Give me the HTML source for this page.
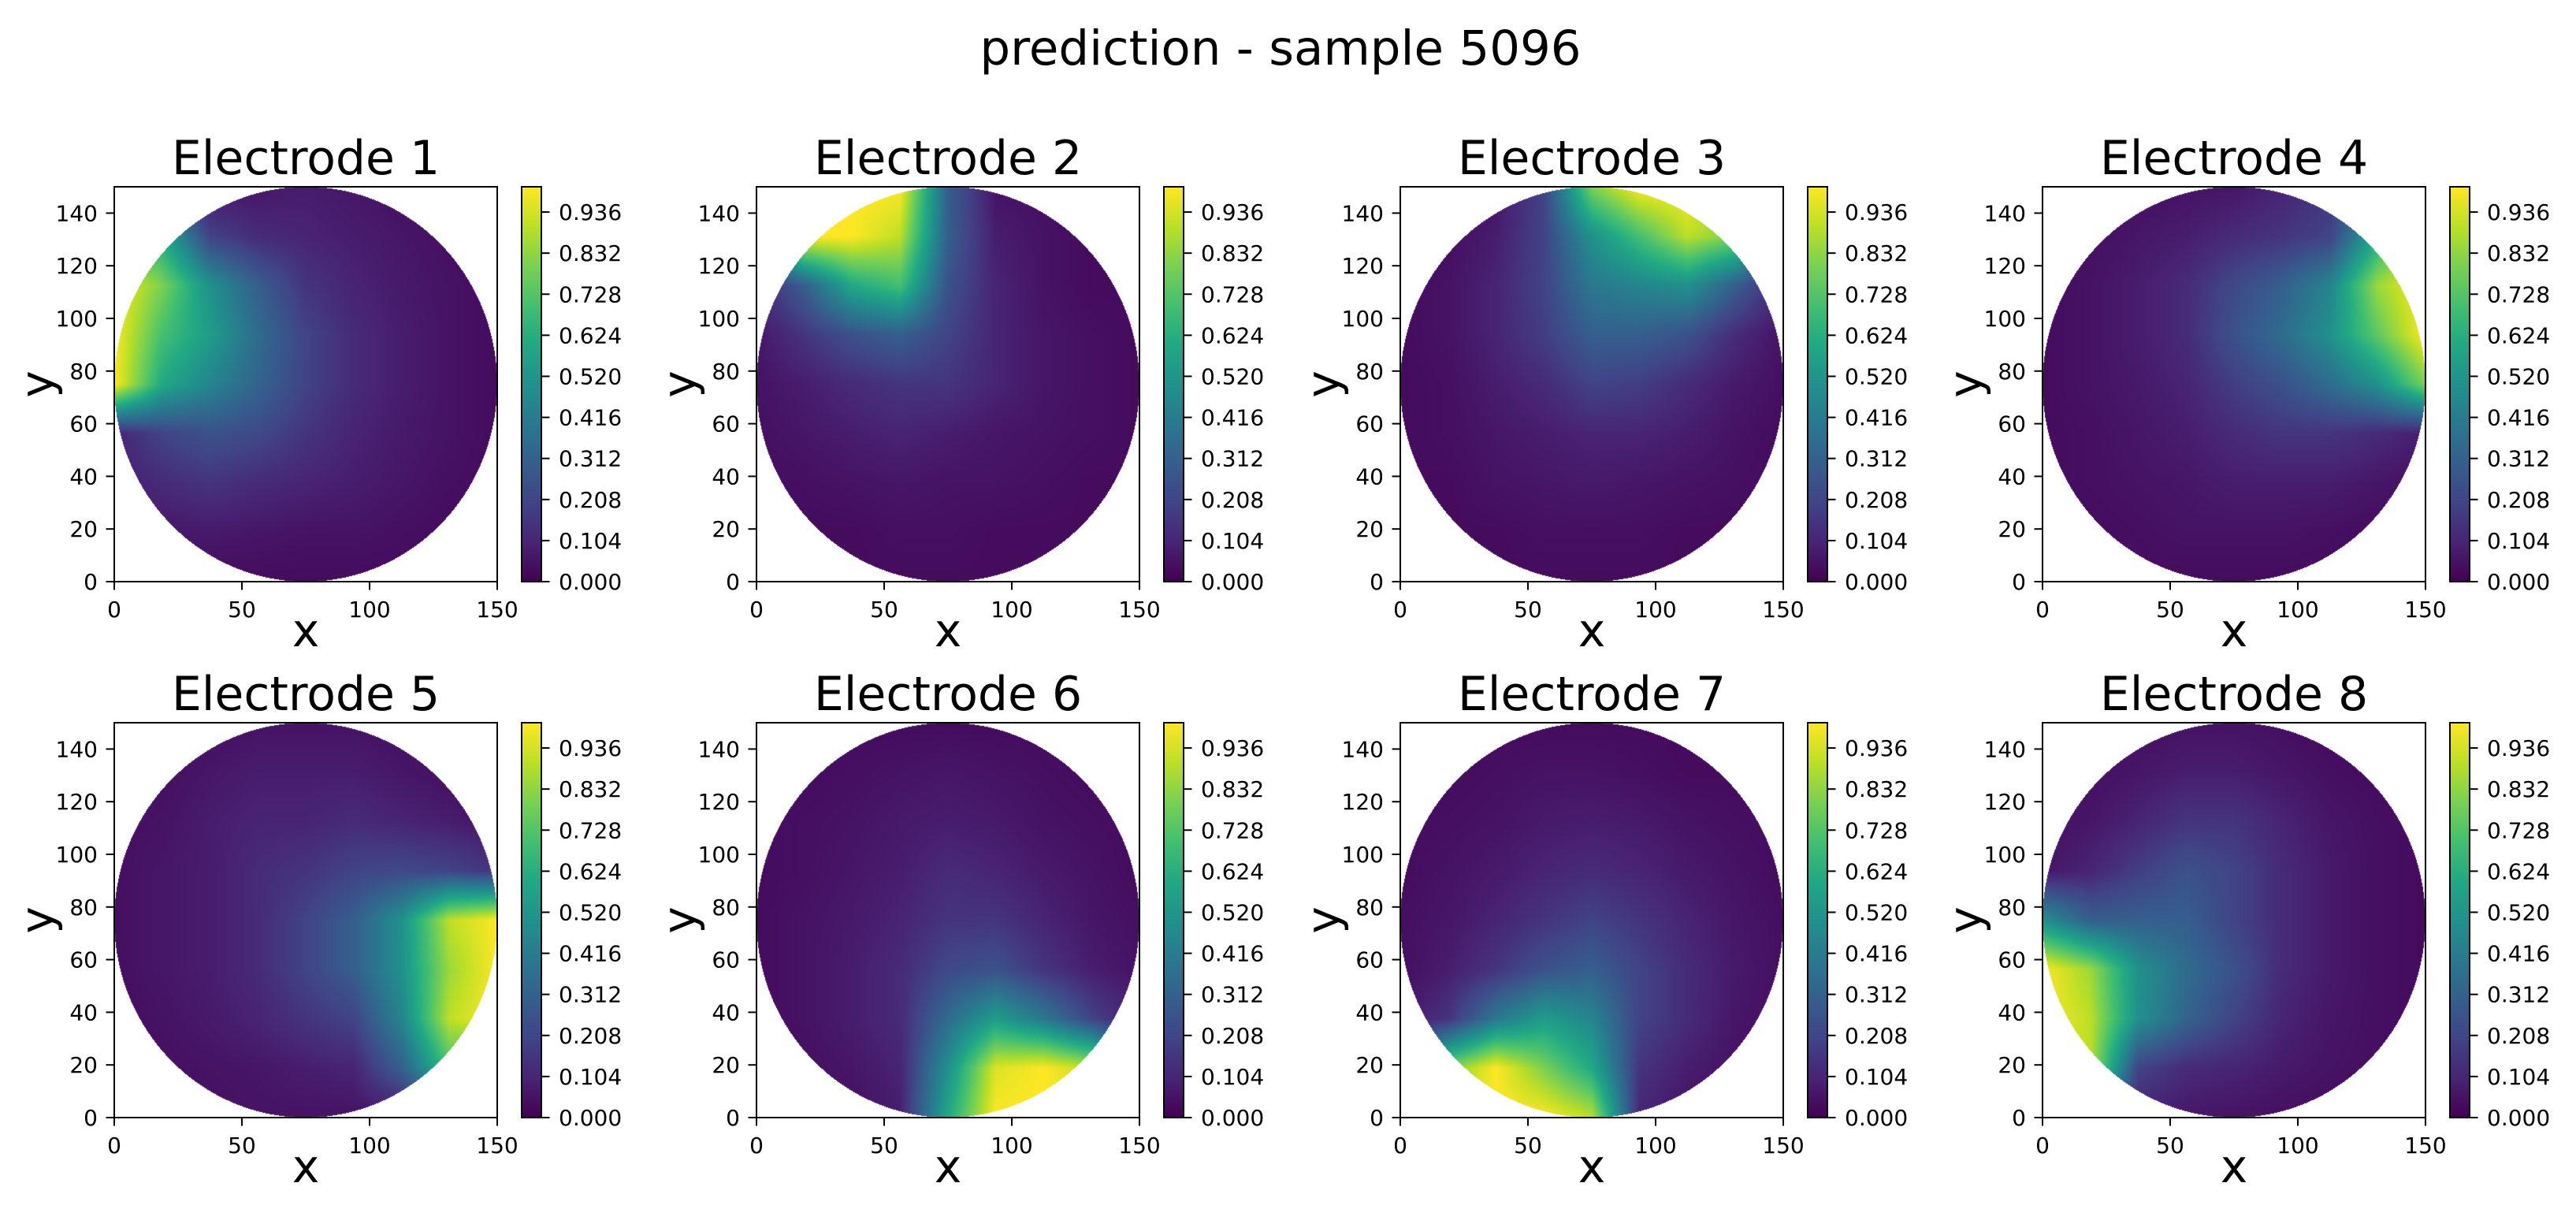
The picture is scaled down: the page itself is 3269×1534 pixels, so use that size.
<!DOCTYPE html>
<html><head><meta charset="utf-8"><style>
html,body{margin:0;padding:0;background:#fff;}
#root{position:relative;width:3269px;height:1534px;overflow:hidden;background:#fff;font-family:"DejaVu Sans","Liberation Sans",sans-serif;}
canvas{position:absolute;}
svg{position:absolute;left:0;top:0;}
</style></head>
<body>
<div id="root">
<svg id="ov" width="3269" height="1534">
<text x="1625" y="82" font-size="61" text-anchor="middle" font-family="DejaVu Sans, Liberation Sans, sans-serif">prediction - sample 5096</text>
</svg>
</div>
<script>
// grid nodes (data coords); rows listed from y=150 down to y=0
const gridX = [0, 18.75, 37.5, 56.25, 75, 93.75, 112.5, 131.25, 150];
const gridY = [150, 131.25, 112.5, 93.75, 75, 56.25, 37.5, 18.75, 0];
const xTicks = [0, 50, 100, 150];
const yTicks = [0, 20, 40, 60, 80, 100, 120, 140];
const cbTicks = [0.000, 0.104, 0.208, 0.312, 0.416, 0.520, 0.624, 0.728, 0.832, 0.936];
const titles = ["Electrode 1","Electrode 2","Electrode 3","Electrode 4","Electrode 5","Electrode 6","Electrode 7","Electrode 8"];
const e1 = [
[.05,.05,.05,.06,.08,.06,.04,.03,.03],
[.8,.6,.2,.12,.1,.08,.06,.04,.03],
[1,.8,.5,.3,.15,.1,.07,.05,.03],
[1,.7,.55,.35,.2,.12,.08,.05,.03],
[1,.6,.45,.32,.2,.12,.08,.05,.03],
[.1,.2,.25,.22,.15,.1,.07,.05,.03],
[.08,.12,.15,.12,.1,.08,.06,.04,.03],
[.05,.06,.07,.06,.05,.05,.04,.03,.03],
[.03,.03,.03,.03,.03,.03,.03,.03,.03]];
const e2 = [
[.7,1,1,1,.3,.05,.04,.03,.03],
[.4,1,1,.9,.3,.08,.05,.03,.03],
[.1,.3,.6,.7,.25,.1,.05,.03,.03],
[.06,.15,.25,.3,.2,.1,.06,.04,.03],
[.05,.08,.12,.15,.15,.1,.06,.04,.03],
[.04,.06,.08,.1,.08,.06,.05,.04,.03],
[.03,.04,.05,.06,.05,.05,.04,.03,.03],
[.03,.03,.03,.04,.04,.03,.03,.03,.03],
[.03,.03,.03,.03,.03,.03,.03,.03,.03]];
const e3 = [
[.03,.03,.05,.2,.8,1,1,.9,.3],
[.03,.04,.08,.2,.5,.7,.9,.8,.2],
[.03,.05,.1,.2,.4,.45,.5,.3,.1],
[.03,.05,.1,.18,.3,.3,.25,.12,.05],
[.03,.04,.08,.12,.2,.18,.12,.07,.04],
[.03,.04,.06,.08,.1,.1,.08,.05,.03],
[.03,.03,.05,.06,.07,.06,.05,.04,.03],
[.03,.03,.03,.04,.04,.04,.03,.03,.03],
[.03,.03,.03,.03,.03,.03,.03,.03,.03]];
const e4 = [
[.03,.03,.04,.05,.06,.1,.15,.3,.3],
[.03,.04,.06,.08,.12,.15,.2,.6,1],
[.03,.05,.08,.12,.22,.3,.45,.85,1],
[.03,.05,.08,.12,.25,.35,.5,.75,1],
[.03,.05,.07,.1,.18,.25,.35,.5,.8],
[.03,.04,.06,.08,.12,.15,.15,.12,.08],
[.03,.04,.05,.06,.08,.08,.08,.06,.04],
[.03,.03,.04,.05,.05,.05,.04,.03,.03],
[.03,.03,.03,.03,.03,.03,.03,.03,.03]];
const e5 = [
[.03,.03,.04,.05,.05,.05,.04,.03,.03],
[.03,.04,.06,.08,.08,.08,.06,.04,.03],
[.04,.05,.08,.1,.1,.12,.1,.08,.05],
[.04,.06,.08,.12,.15,.2,.22,.2,.15],
[.04,.06,.08,.12,.2,.3,.5,.9,1],
[.04,.06,.08,.12,.2,.3,.5,.85,1],
[.03,.05,.07,.1,.15,.2,.45,.9,1],
[.03,.04,.05,.06,.08,.1,.3,.7,.6],
[.03,.03,.04,.05,.05,.05,.05,.05,.05]];
const e6 = [
[.03,.03,.03,.03,.03,.03,.03,.03,.03],
[.03,.03,.04,.05,.06,.05,.04,.03,.03],
[.03,.04,.05,.07,.08,.07,.05,.04,.03],
[.03,.04,.06,.08,.12,.1,.07,.05,.03],
[.03,.05,.07,.1,.15,.15,.1,.06,.04],
[.03,.05,.08,.12,.22,.25,.15,.08,.05],
[.03,.05,.08,.12,.35,.55,.4,.2,.08],
[.03,.04,.06,.1,.5,.95,1,.9,.3],
[.03,.03,.04,.08,.6,1,1,1,.3]];
const e7 = [
[.03,.03,.03,.03,.03,.03,.03,.03,.03],
[.03,.03,.04,.05,.05,.04,.03,.03,.03],
[.03,.04,.05,.07,.08,.07,.05,.04,.03],
[.03,.05,.07,.1,.12,.1,.07,.05,.03],
[.04,.06,.1,.15,.2,.15,.1,.06,.04],
[.04,.08,.15,.25,.3,.2,.12,.07,.04],
[.05,.15,.4,.55,.45,.2,.12,.06,.04],
[.2,.8,1,.8,.6,.15,.08,.05,.03],
[.3,1,1,1,.9,.1,.05,.03,.03]];
const e8 = [
[.03,.03,.04,.05,.05,.04,.03,.03,.03],
[.03,.04,.06,.08,.08,.06,.04,.03,.03],
[.04,.06,.1,.15,.15,.1,.06,.04,.03],
[.06,.1,.18,.25,.2,.12,.07,.04,.03],
[.5,.3,.3,.3,.2,.12,.07,.04,.03],
[1,.85,.5,.35,.25,.12,.07,.04,.03],
[1,.9,.5,.32,.2,.1,.06,.04,.03],
[1,.9,.2,.12,.1,.07,.05,.04,.03],
[.1,.3,.08,.06,.05,.04,.03,.03,.03]];
const fields = [e1,e2,e3,e4,e5,e6,e7,e8];

const colLeft = [145, 960, 1777, 2592], rowTop = [237, 917], W = 486, H = 501;
const viridis = ["#440154","#482475","#414487","#355f8d","#2a788e","#21918c","#22a884","#44bf70","#7ad151","#bddf26","#fde725"].map(h=>[parseInt(h.slice(1,3),16),parseInt(h.slice(3,5),16),parseInt(h.slice(5,7),16)]);
function cmap(v){v=Math.max(0,Math.min(1,v));const t=v*10,i=Math.min(9,Math.floor(t)),f=t-i,a=viridis[i],b=viridis[i+1];return [a[0]+(b[0]-a[0])*f,a[1]+(b[1]-a[1])*f,a[2]+(b[2]-a[2])*f];}
function sample(g,x,y){
  const step=150/(gridX.length-1);
  let fx=x/step, fy=(150-y)/step;
  let i=Math.min(gridX.length-2,Math.max(0,Math.floor(fx))), j=Math.min(gridY.length-2,Math.max(0,Math.floor(fy)));
  const tx=fx-i, ty=fy-j;
  return g[j][i]*(1-tx)*(1-ty)+g[j][i+1]*tx*(1-ty)+g[j+1][i]*(1-tx)*ty+g[j+1][i+1]*tx*ty;
}
const root=document.getElementById('root'), ov=document.getElementById('ov');
const NS='http://www.w3.org/2000/svg';
function mk(tag,attrs,parent){const e=document.createElementNS(NS,tag);for(const k in attrs)e.setAttribute(k,attrs[k]);(parent||ov).appendChild(e);return e;}

fields.forEach((g,k)=>{
  const L=colLeft[k%4], T=rowTop[Math.floor(k/4)];
  const xs=v=>L+v/150*W, ys=v=>T+H-v/150*H;
  const c=document.createElement('canvas');
  
  
  c.width=W;c.height=H;c.style.left=L+'px';c.style.top=T+'px';
  root.insertBefore(c,ov);
  const ctx=c.getContext('2d'),im=ctx.createImageData(W,H);
  for(let py=0;py<H;py++)for(let px=0;px<W;px++){
    const x=(px+0.5)/W*150,y=150-(py+0.5)/H*150;
    if((x-75)*(x-75)+(y-75)*(y-75)>75*75)continue;
    const col=cmap(sample(g,x,y)),o=(py*W+px)*4;
    im.data[o]=col[0];im.data[o+1]=col[1];im.data[o+2]=col[2];im.data[o+3]=255;
  }
  ctx.putImageData(im,0,0);
  const grp=mk('g',{});
  
  
  const fr=mk('rect',{x:L,y:T,width:W,height:H,fill:'none',stroke:'#000','stroke-width':2},grp);
  
  
  xTicks.forEach(v=>{
    mk('line',{x1:xs(v),x2:xs(v),y1:T+H,y2:T+H+10.5,stroke:'#000','stroke-width':2},grp);
    const t=mk('text',{x:xs(v),y:T+H+45,'font-size':28,'text-anchor':'middle'},grp);t.textContent=v;
    
    
  });
  yTicks.forEach(v=>{
    mk('line',{x1:L-10.5,x2:L,y1:ys(v),y2:ys(v),stroke:'#000','stroke-width':2},grp);
    const t=mk('text',{x:L-21,y:ys(v)+10,'font-size':28,'text-anchor':'end'},grp);t.textContent=v;
    
    
  });
  const tt=mk('text',{x:L+W/2,y:T-16,'font-size':60,'text-anchor':'middle'},grp);tt.textContent=titles[k];
  
  
  const xl=mk('text',{x:L+W/2,y:T+H+82,'font-size':58,'text-anchor':'middle'},grp);xl.textContent='x';
  
  
  const yl=mk('text',{x:0,y:0,'font-size':58,'text-anchor':'middle',transform:'translate('+(L-78)+','+(T+H/2)+') rotate(-90)'},grp);yl.textContent='y';
  
  
  const cl=L+517,cw=25;
  const cs=v=>T+H-v*H;
  const cc=document.createElement('canvas');
  
  
  cc.width=cw;cc.height=H;cc.style.left=cl+'px';cc.style.top=T+'px';
  root.insertBefore(cc,ov);
  const c2=cc.getContext('2d');
  for(let py=0;py<H;py++){const col=cmap(1-(py+0.5)/H);c2.fillStyle='rgb('+col.map(Math.round).join(',')+')';c2.fillRect(0,py,cw,1);}
  mk('rect',{x:cl,y:T,width:cw,height:H,fill:'none',stroke:'#000','stroke-width':2},grp);
  cbTicks.forEach(v=>{
    mk('line',{x1:cl+cw,x2:cl+cw+10.5,y1:cs(v),y2:cs(v),stroke:'#000','stroke-width':2},grp);
    const t=mk('text',{x:cl+cw+22,y:cs(v)+10,'font-size':28},grp);t.textContent=v.toFixed(3);
    
    
  });
});
</script>
</body></html>
